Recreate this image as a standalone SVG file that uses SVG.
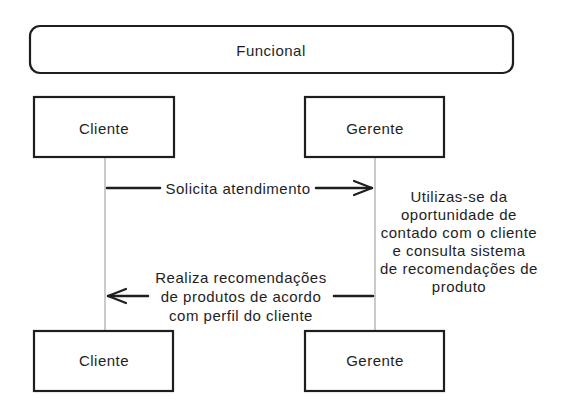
<svg xmlns="http://www.w3.org/2000/svg" width="566" height="414" viewBox="0 0 566 414">
<style>
.box{fill:#fff;stroke:#1e1e1e;stroke-width:2.2}
.t{font-family:"Liberation Sans",Arial,sans-serif;font-size:15px;letter-spacing:0.5px;fill:#1e1e1e;text-anchor:middle;dominant-baseline:central}
.life{stroke:#b8b8b8;stroke-width:1.5;fill:none}
.msg{stroke:#1e1e1e;stroke-width:2.5;fill:none;stroke-linecap:round}
</style>
<defs>
<marker id="ah" viewBox="0 0 20 20" refX="19" refY="10" markerWidth="20" markerHeight="20" markerUnits="userSpaceOnUse" orient="auto">
<path d="M1,3 L19,10 L1,17" fill="none" stroke="#1e1e1e" stroke-width="2.2" stroke-linecap="round"/>
</marker>
</defs>
<rect x="0" y="0" width="566" height="414" fill="#fff"/>
<g id="funcional">
<rect class="box" x="30" y="26" width="483" height="47" rx="10"/>
<text class="t" x="271" y="50">Funcional</text>
</g>
<g id="connectors">
<line class="life" x1="105" y1="157" x2="105" y2="331"/>
<line class="life" x1="375" y1="157" x2="375" y2="331"/>
<line class="msg" x1="107" y1="188" x2="160" y2="188"/>
<line class="msg" x1="316" y1="188" x2="372" y2="188" marker-end="url(#ah)"/>
<text class="t" x="238" y="188">Solicita atendimento</text>
<line class="msg" x1="373" y1="296" x2="334" y2="296"/>
<line class="msg" x1="148" y1="296" x2="108" y2="296" marker-end="url(#ah)"/>
<text class="t" x="241" y="277">Realiza recomendações</text>
<text class="t" x="241" y="296">de produtos de acordo</text>
<text class="t" x="241" y="315">com perfil do cliente</text>
</g>
<g id="nota">
<text class="t" x="459" y="196">Utilizas-se da</text>
<text class="t" x="459" y="214">oportunidade de</text>
<text class="t" x="459" y="232">contado com o cliente</text>
<text class="t" x="459" y="250">e consulta sistema</text>
<text class="t" x="459" y="268">de recomendações de</text>
<text class="t" x="459" y="286">produto</text>
</g>
<g id="cliente-top">
<rect class="box" x="34" y="97" width="140" height="60"/>
<text class="t" x="104" y="128">Cliente</text>
</g>
<g id="gerente-top">
<rect class="box" x="305" y="97" width="139" height="60"/>
<text class="t" x="375" y="128">Gerente</text>
</g>
<g id="cliente-bottom">
<rect class="box" x="34" y="331" width="139" height="60"/>
<text class="t" x="104" y="360">Cliente</text>
</g>
<g id="gerente-bottom">
<rect class="box" x="305" y="331" width="139" height="60"/>
<text class="t" x="375" y="360">Gerente</text>
</g>
</svg>
